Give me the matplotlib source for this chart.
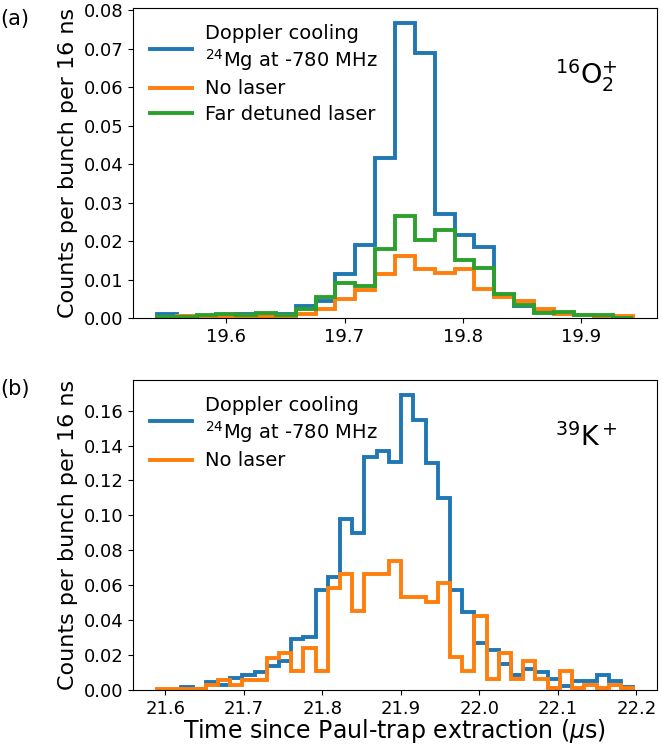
import numpy as np
import matplotlib
matplotlib.use("Agg")
import matplotlib.pyplot as plt

# ---------------- data ----------------
# Panel (a): 16O2+ histogram
a_bin_start = 19.5415
a_bin_width = 0.01676
a_doppler = [0.0010, 0.0004, 0.0005, 0.0007, 0.0010, 0.0010, 0.0010, 0.0031,
             0.0044, 0.0114, 0.0191, 0.0415, 0.0768, 0.0690, 0.0270, 0.0215,
             0.0185, 0.0060, 0.0030, 0.0015, 0.0010, 0.0008, 0.0005, 0.0002]
a_nolaser = [0.0002, 0.0004, 0.0002, 0.0002, 0.0002, 0.0002, 0.0002, 0.0011,
             0.0024, 0.0049, 0.0074, 0.0115, 0.0161, 0.0128, 0.0118, 0.0128,
             0.0076, 0.0055, 0.0043, 0.0023, 0.0010, 0.0008, 0.0005, 0.0005]
a_fardet = [0.0002, 0.0002, 0.0008, 0.0010, 0.0008, 0.0014, 0.0009, 0.0023,
            0.0055, 0.0091, 0.0083, 0.0180, 0.0265, 0.0202, 0.0230, 0.0150,
            0.0130, 0.0062, 0.0033, 0.0012, 0.0015, 0.0008, 0.0008, 0.0001]

# Panel (b): 39K+ histogram
b_bin_start = 21.5893
b_bin_width = 0.015553
b_doppler = [0.0, 0.0, 0.0017, 0.0006, 0.0048, 0.0027, 0.0068, 0.0088,
             0.0101, 0.0140, 0.0165, 0.0290, 0.0305, 0.0573, 0.0645, 0.0979,
             0.0900, 0.1336, 0.1366, 0.1303, 0.1690, 0.1546, 0.1300, 0.1100,
             0.0573, 0.0445, 0.0267, 0.0229, 0.0149, 0.0088, 0.0120, 0.0101,
             0.0063, 0.0025, 0.0050, 0.0050, 0.0088, 0.0050, 0.0019]
b_nolaser = [0.0003, 0.0003, 0.0003, 0.0003, 0.0030, 0.0055, 0.0030, 0.0055,
             0.0055, 0.0185, 0.0213, 0.0110, 0.0242, 0.0108, 0.0586, 0.0662,
             0.0454, 0.0667, 0.0667, 0.0738, 0.0530, 0.0530, 0.0505, 0.0613,
             0.0187, 0.0110, 0.0426, 0.0063, 0.0210, 0.0063, 0.0164, 0.0063,
             0.0010, 0.0108, 0.0010, 0.0030, 0.0010, 0.0030, 0.0010]

label_doppler = "Doppler cooling\n$^{24}$Mg at -780 MHz"
label_nolaser = "No laser"
label_fardet = "Far detuned laser"
ylabel = "Counts per bunch per 16 ns"
xlabel = r"Time since Paul-trap extraction ($\mu$s)"

C_BLUE = "#1f77b4"
C_ORANGE = "#ff7f0e"
C_GREEN = "#2ca02c"
LW = 2.8

plt.rcParams['font.family'] = ['DejaVu Sans']

fig = plt.figure(figsize=(6.63, 7.5), dpi=100)
ax1 = fig.add_axes([0.2006, 0.576, 0.7904, 0.4133])
ax2 = fig.add_axes([0.2006, 0.080, 0.7904, 0.4133])

LEG_KW = dict(loc="upper left", frameon=False, fontsize=14, handlelength=2.15,
              handletextpad=0.65, bbox_to_anchor=(0.0, 1.006), labelspacing=0.35)

# ---- panel (a)
edges_a = a_bin_start + a_bin_width * np.arange(len(a_doppler) + 1)
ax1.stairs(a_doppler, edges_a, color=C_BLUE, lw=LW, label=label_doppler)
ax1.stairs(a_nolaser, edges_a, color=C_ORANGE, lw=LW, label=label_nolaser)
ax1.stairs(a_fardet, edges_a, color=C_GREEN, lw=LW, label=label_fardet)
ax1.set_ylim(0, 0.0806)
ax1.set_xticks([19.6, 19.7, 19.8, 19.9])
ax1.set_yticks(np.arange(0, 0.081, 0.01))
ax1.set_ylabel(ylabel, fontsize=16)
ax1.text(0.865, 0.785, r"$^{16}$O$_2^{+}$", transform=ax1.transAxes,
         fontsize=19.5, ha="center", va="center")
ax1.legend(**LEG_KW)

# ---- panel (b)
edges_b = b_bin_start + b_bin_width * np.arange(len(b_doppler) + 1)
ax2.stairs(b_doppler, edges_b, color=C_BLUE, lw=LW, label=label_doppler)
ax2.stairs(b_nolaser, edges_b, color=C_ORANGE, lw=LW, label=label_nolaser)
ax2.set_ylim(0, 0.1775)
ax2.set_xticks([21.6, 21.7, 21.8, 21.9, 22.0, 22.1, 22.2])
ax2.set_yticks(np.arange(0, 0.161, 0.02))
ax2.set_ylabel(ylabel, fontsize=16)
ax2.set_xlabel(xlabel, fontsize=17)
ax2.xaxis.set_label_coords(0.5, -0.088)
ax2.text(0.865, 0.815, r"$^{39}$K$^+$", transform=ax2.transAxes,
         fontsize=19.5, ha="center", va="center")
ax2.legend(**LEG_KW)

for ax in (ax1, ax2):
    ax.tick_params(labelsize=13)

fig.text(0.0, 0.975, "(a)", fontsize=15, ha="left", va="center")
fig.text(0.0, 0.482, "(b)", fontsize=15, ha="left", va="center")

fig.savefig("out.png", dpi=100)
